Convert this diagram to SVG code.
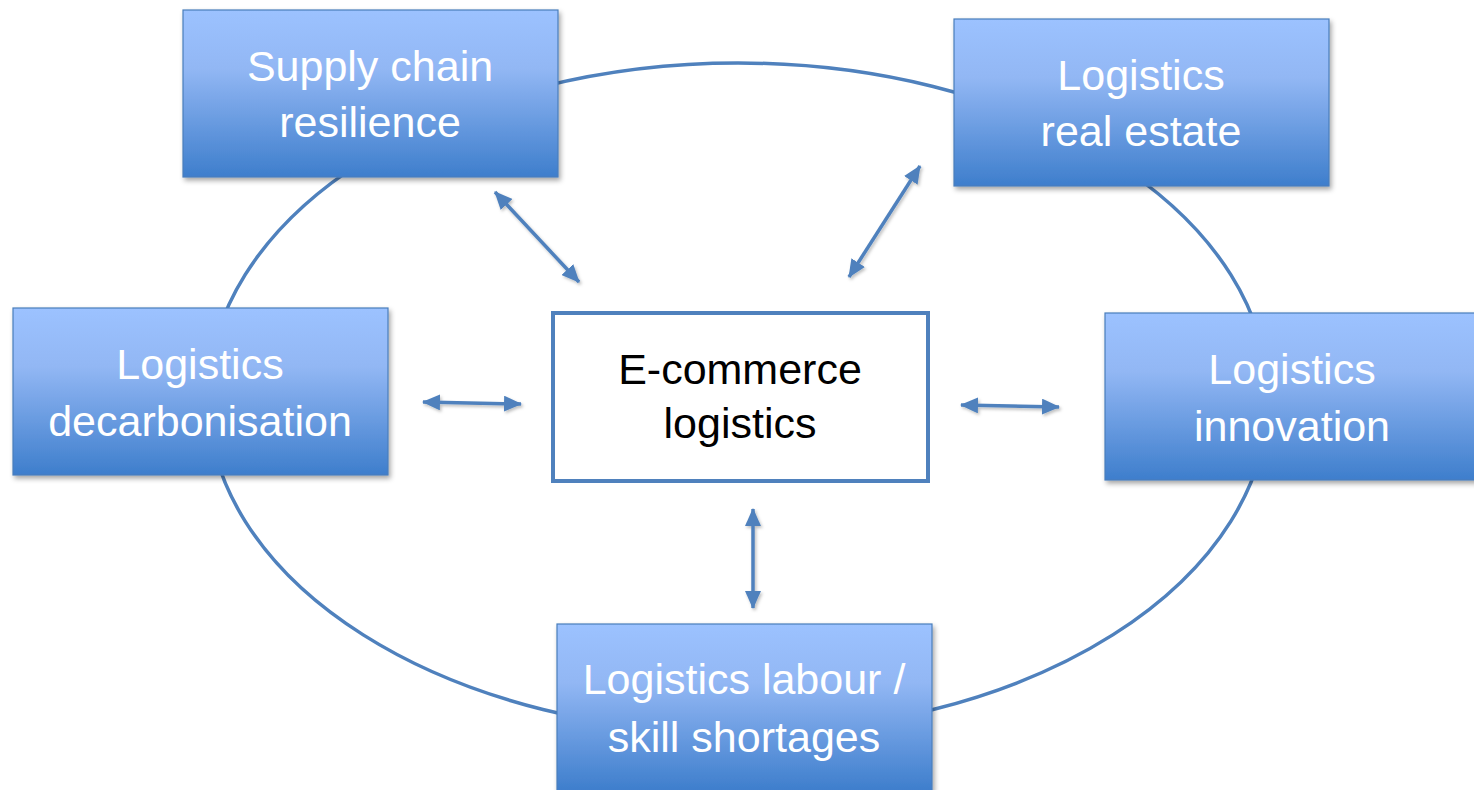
<svg xmlns="http://www.w3.org/2000/svg" width="1474" height="790" viewBox="0 0 1474 790">
  <defs>
    <linearGradient id="boxGrad" x1="0" y1="0" x2="0" y2="1">
      <stop offset="0" stop-color="#9cc2ff"/>
      <stop offset="0.35" stop-color="#92b7f4"/>
      <stop offset="1" stop-color="#3e7ecc"/>
    </linearGradient>
    <filter id="shadow" x="-10%" y="-10%" width="125%" height="130%">
      <feDropShadow dx="2" dy="3" stdDeviation="2.5" flood-color="#000" flood-opacity="0.35"/>
    </filter>
    <filter id="arrowShadow" x="-20%" y="-20%" width="140%" height="140%">
      <feDropShadow dx="1.5" dy="2" stdDeviation="1.5" flood-color="#000" flood-opacity="0.25"/>
    </filter>
    <marker id="arrow" viewBox="0 0 18 16" refX="17" refY="8" markerWidth="18" markerHeight="16" markerUnits="userSpaceOnUse" orient="auto-start-reverse">
      <path d="M0,0 L18,8 L0,16 Z" fill="#4f81bd"/>
    </marker>
  </defs>
  <style>
    .box { fill: url(#boxGrad); stroke: #4a7ebb; stroke-width: 1.2; filter: url(#shadow); }
    .center { fill: #ffffff; stroke: #4f81bd; stroke-width: 4; }
    .label { font-family: "Liberation Sans", Arial, sans-serif; font-size: 43px; fill: #ffffff; text-anchor: middle; }
    .clabel { font-family: "Liberation Sans", Arial, sans-serif; font-size: 43px; fill: #000000; text-anchor: middle; }
    .ring { fill: none; stroke: #4f81bd; stroke-width: 3.5; }
    .conn { stroke: #4f81bd; stroke-width: 3.5; fill: none; marker-start: url(#arrow); marker-end: url(#arrow); }
  </style>
  <rect width="1474" height="790" fill="#ffffff"/>

  <g id="ring">
    <ellipse class="ring" cx="738" cy="398" rx="530" ry="335"/>
  </g>

  <g id="connectors" filter="url(#arrowShadow)">
    <line class="conn" x1="495" y1="192" x2="579" y2="282"/>
    <line class="conn" x1="920" y1="166" x2="849" y2="277"/>
    <line class="conn" x1="423" y1="402" x2="521" y2="404"/>
    <line class="conn" x1="961" y1="405" x2="1059" y2="407"/>
    <line class="conn" x1="753" y1="509" x2="753" y2="608"/>
  </g>

  <g id="node-supply-chain">
    <rect class="box" x="183" y="10" width="375" height="167"/>
    <text class="label" x="370" y="81">Supply chain</text>
    <text class="label" x="370" y="137">resilience</text>
  </g>

  <g id="node-real-estate">
    <rect class="box" x="954" y="19" width="375" height="167"/>
    <text class="label" x="1141" y="90">Logistics</text>
    <text class="label" x="1141" y="146">real estate</text>
  </g>

  <g id="node-decarbonisation">
    <rect class="box" x="13" y="308" width="375" height="167"/>
    <text class="label" x="200" y="379">Logistics</text>
    <text class="label" x="200" y="436">decarbonisation</text>
  </g>

  <g id="node-innovation">
    <rect class="box" x="1105" y="313" width="375" height="167"/>
    <text class="label" x="1292" y="384">Logistics</text>
    <text class="label" x="1292" y="441">innovation</text>
  </g>

  <g id="node-labour">
    <rect class="box" x="557" y="624" width="375" height="167"/>
    <text class="label" x="744" y="694">Logistics labour /</text>
    <text class="label" x="744" y="752">skill shortages</text>
  </g>

  <g id="node-ecommerce">
    <rect class="center" x="553" y="313" width="375" height="168"/>
    <text class="clabel" x="740" y="384">E-commerce</text>
    <text class="clabel" x="740" y="438">logistics</text>
  </g>
</svg>
